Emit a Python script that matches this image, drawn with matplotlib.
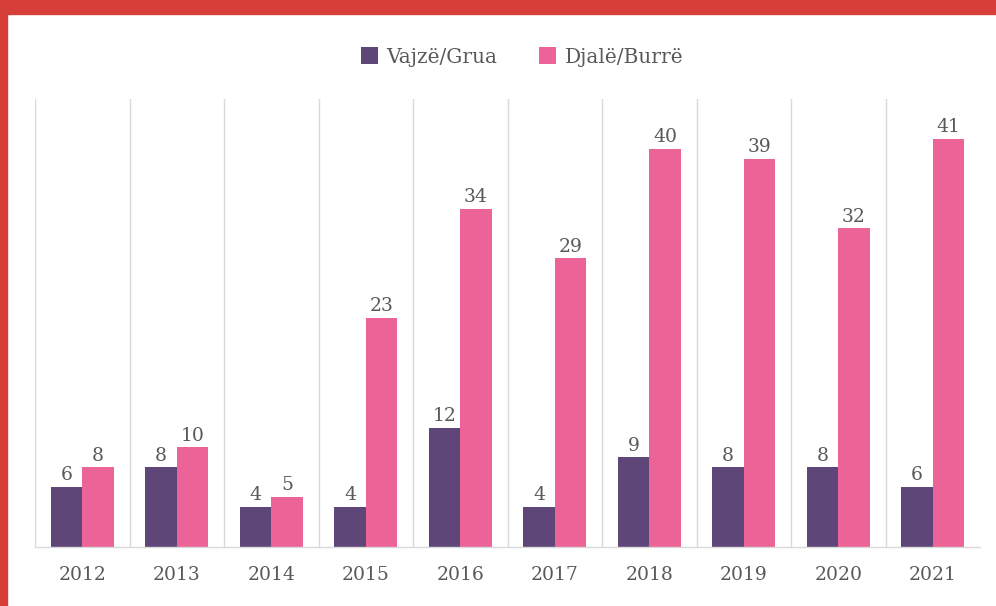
import matplotlib.pyplot as plt
from matplotlib.patches import Rectangle
import numpy as np

years = ["2012", "2013", "2014", "2015", "2016", "2017", "2018", "2019", "2020", "2021"]
vajze = [6, 8, 4, 4, 12, 4, 9, 8, 8, 6]
djale = [8, 10, 5, 23, 34, 29, 40, 39, 32, 41]

purple = "#5E4679"
pink = "#EC6497"
grey = "#595959"

plt.rcParams['font.family'] = ['DejaVu Serif']

fig = plt.figure(figsize=(9.96, 6.06), dpi=100)
ax = fig.add_axes([35 / 996, 59 / 606, 945 / 996, 448 / 606])

x = np.arange(len(years))
w = 0.333
b1 = ax.bar(x - w / 2, vajze, w, color=purple, label="Vajzë/Grua")
b2 = ax.bar(x + w / 2, djale, w, color=pink, label="Djalë/Burrë")

for bars in (b1, b2):
    ax.bar_label(bars, padding=2, fontsize=13.5, color=grey)

ax.set_xlim(-0.5, len(years) - 0.5)
ax.set_ylim(0, 45)
ax.set_xticks(x)
ax.set_xticklabels(years, fontsize=13.5, color=grey)
ax.tick_params(axis='x', length=0, pad=14)
ax.set_yticks([])

# vertical separators between categories
for i in range(len(years)):
    ax.axvline(i - 0.5, color="#D9D9D9", lw=1.0, zorder=0)

for s in ['top', 'right', 'left']:
    ax.spines[s].set_visible(False)
ax.spines['bottom'].set_color("#D9D9D9")
ax.spines['bottom'].set_linewidth(1.0)

fig.legend(handles=[b1, b2], loc='center', bbox_to_anchor=(522 / 996, 1 - 57 / 606),
           ncol=2, frameon=False, fontsize=14.5, handlelength=0.85, handleheight=0.85,
           handletextpad=0.4, columnspacing=2.1, labelcolor=grey)

# red frame at top and left
fig.patches.append(Rectangle((0, 1 - 14 / 606), 1, 14 / 606, transform=fig.transFigure,
                             color="#D63E3A", zorder=10))
fig.patches.append(Rectangle((0, 0), 7 / 996, 1, transform=fig.transFigure,
                             color="#D63E3A", zorder=10))

fig.savefig("out.png", dpi=100)
